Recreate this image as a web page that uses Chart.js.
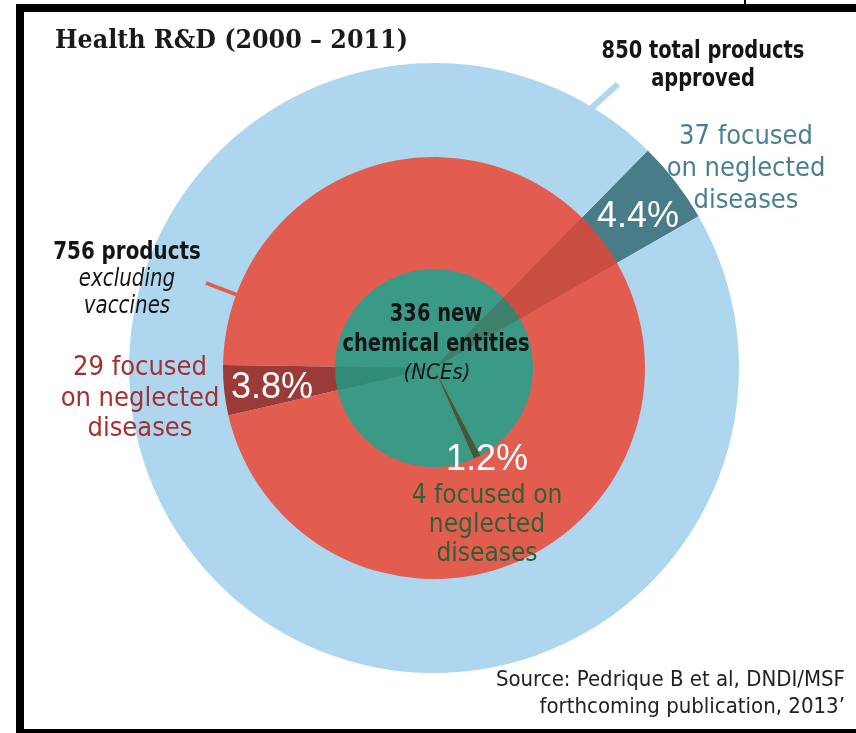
<!DOCTYPE html>
<html>
<head>
<meta charset="utf-8">
<script src="https://cdn.jsdelivr.net/npm/chart.js@4.4.1/dist/chart.umd.min.js"></script>
<style>
    html, body { margin: 0; padding: 0; background: #fff; }
    body { width: 856px; height: 733px; position: relative; overflow: hidden; }
    .marco { position: absolute; left: 16px; top: 4px; width: 900px; height: 733px; border: 8px solid #000; box-sizing: border-box; }
    .tick { position: absolute; left: 744px; top: 0; width: 2px; height: 5px; background: #000; }
    .capa { position: absolute; left: 84px; top: 18px; }
    .txt { position: absolute; text-align: center; white-space: nowrap;
           font-family: "Liberation Sans Narrow", "DejaVu Sans Condensed", sans-serif; }
    .titulo { position: absolute; left: 55px; top: 23px; font-family: "DejaVu Serif Condensed", "DejaVu Serif", serif;
              font-weight: bold; font-size: 26.5px; color: #1a1a1a; }
    .negrita { font-weight: bold; color: #151515; }
    .pct { font-family: "Liberation Sans", Arial, sans-serif; color: #fff; font-size: 36px; }
    .fuente { position: absolute; right: 11px; top: 665px; text-align: right; font-size: 22px; line-height: 27px; color: #222;
              font-family: "Liberation Sans Narrow", "DejaVu Sans Condensed", sans-serif; }
    svg { position: absolute; left: 0; top: 0; }
</style>
</head>
<body>
<div class="marco"></div>
<div class="tick"></div>

<canvas class="capa" id="c-total" width="700" height="700"></canvas>
<canvas class="capa" id="c-sinvacunas" width="700" height="700"></canvas>
<canvas class="capa" id="c-nce" width="700" height="700"></canvas>
<canvas class="capa" id="c-sombra1" width="700" height="700"></canvas>
<canvas class="capa" id="c-sombra2" width="700" height="700"></canvas>

<svg width="856" height="733">
    <line x1="588" y1="111" x2="618" y2="84" stroke="#aed7ef" stroke-width="6"/>
    <line x1="206" y1="283" x2="240" y2="296" stroke="#e35c50" stroke-width="4"/>
</svg>

<div class="titulo">Health R&amp;D (2000 – 2011)</div>
<div id="etiquetas"></div>
<div class="fuente">Source: Pedrique B et al, DNDI/MSF<br>forthcoming publication, 2013’</div>

<script>
// productos aprobados 2000-2011: total, sin vacunas, nuevas entidades químicas
const totales = [850, 756, 336];
const enfocados = [37, 29, 4];
const radios = [305, 211, 99];
const rotaciones = [44.5, 257, 152];
const coloresBase = ['#aed7ef', '#e35c50', '#3a9a86'];
const coloresFoco = ['#487c88', '#9b3b39', '#3e5a3a'];

function porcentaje(i) {
    return (enfocados[i] / totales[i] * 100).toFixed(1) + '%';
}

function crearCirculo(id, i, radio, colores) {
    const ctx = document.getElementById(id).getContext('2d');
    return new Chart(ctx, {
        type: 'pie',
        data: {
            labels: ['focused on neglected diseases', 'other'],
            datasets: [{
                data: [enfocados[i], totales[i] - enfocados[i]],
                backgroundColor: colores,
                borderWidth: 0
            }]
        },
        options: {
            responsive: false,
            animation: false,
            radius: radio,
            rotation: rotaciones[i],
            layout: { padding: 0 },
            plugins: { legend: { display: false }, tooltip: { enabled: false }, title: { display: false } },
            events: []
        }
    });
}

// circulos concentricos
crearCirculo('c-total', 0, radios[0], [coloresFoco[0], coloresBase[0]]);
crearCirculo('c-sinvacunas', 1, radios[1], [coloresFoco[1], coloresBase[1]]);
crearCirculo('c-nce', 2, radios[2], [coloresFoco[2], coloresBase[2]]);
// la cuña exterior oscurece un poco los circulos interiores
crearCirculo('c-sombra1', 0, radios[1], ['rgba(90, 10, 0, 0.18)', 'rgba(0, 0, 0, 0)']);
crearCirculo('c-sombra2', 1, radios[2], ['rgba(0, 30, 20, 0.12)', 'rgba(0, 0, 0, 0)']);

// textos
const etiquetas = [
    { x: 703, y: 64, lh: 28, size: 24, sx: 0.9, cls: 'negrita', html: '850 total products<br>approved' },
    { x: 746, y: 167, lh: 32, size: 27, color: '#4a7f90', html: '37 focused<br>on neglected<br>diseases' },
    { x: 638, y: 215, cls: 'pct', html: porcentaje(0) },
    { x: 127, y: 278, lh: 27, size: 24, sx: 0.92, html: '<b style="color:#151515">756 products</b><br><i>excluding<br>vaccines</i>', color: '#151515' },
    { x: 140, y: 397, lh: 30.5, size: 27, color: '#a3302e', html: '29 focused<br>on neglected<br>diseases' },
    { x: 272, y: 386, cls: 'pct', html: porcentaje(1) },
    { x: 436, y: 328, lh: 30, size: 24, sx: 0.9, cls: 'negrita', html: '336 new<br>chemical entities' },
    { x: 437, y: 371, size: 22, color: '#151515', html: '<i>(NCEs)</i>' },
    { x: 487, y: 458, cls: 'pct', html: porcentaje(2) },
    { x: 487, y: 523, lh: 29, size: 26, color: '#2c6236', html: '4 focused on<br>neglected<br>diseases' }
];

const cont = document.getElementById('etiquetas');
etiquetas.forEach(e => {
    const div = document.createElement('div');
    div.className = 'txt' + (e.cls ? ' ' + e.cls : '');
    div.style.left = e.x + 'px';
    div.style.top = e.y + 'px';
    div.style.transform = 'translate(-50%, -50%) scaleX(' + (e.sx || 1) + ')';
    if (e.size) div.style.fontSize = e.size + 'px';
    if (e.lh) div.style.lineHeight = e.lh + 'px';
    if (e.color) div.style.color = e.color;
    div.innerHTML = e.html;
    cont.appendChild(div);
});
</script>
</body>
</html>
